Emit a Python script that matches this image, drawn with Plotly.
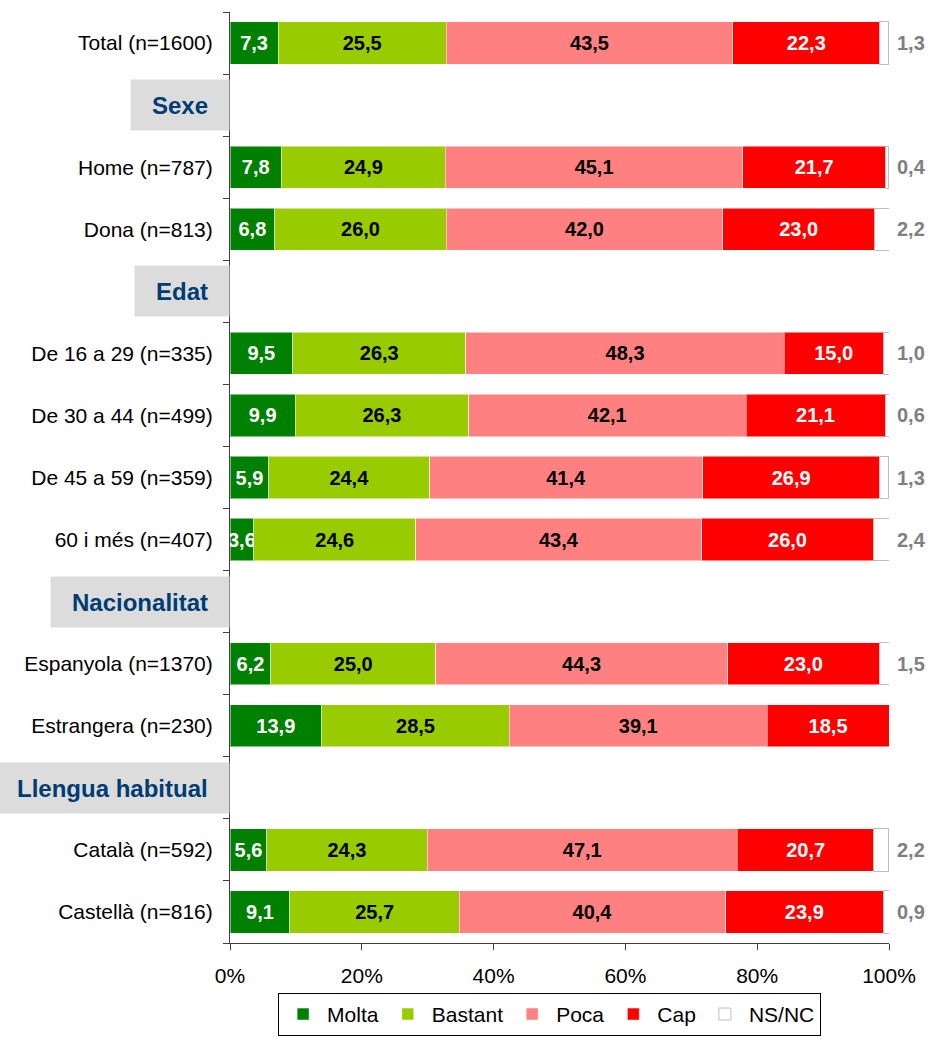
import plotly.graph_objects as go

rows = ["Total (n=1600)", "Sexe", "Home (n=787)", "Dona (n=813)", "Edat",
        "De 16 a 29 (n=335)", "De 30 a 44 (n=499)", "De 45 a 59 (n=359)", "60 i més (n=407)",
        "Nacionalitat", "Espanyola (n=1370)", "Estrangera (n=230)",
        "Llengua habitual", "Català (n=592)", "Castellà (n=816)"]
headers = ["Sexe", "Edat", "Nacionalitat", "Llengua habitual"]

series_names = ["Molta", "Bastant", "Poca", "Cap", "NS/NC"]
molta   = [7.3, None, 7.8, 6.8, None, 9.5, 9.9, 5.9, 3.6, None, 6.2, 13.9, None, 5.6, 9.1]
bastant = [25.5, None, 24.9, 26.0, None, 26.3, 26.3, 24.4, 24.6, None, 25.0, 28.5, None, 24.3, 25.7]
poca    = [43.5, None, 45.1, 42.0, None, 48.3, 42.1, 41.4, 43.4, None, 44.3, 39.1, None, 47.1, 40.4]
cap     = [22.3, None, 21.7, 23.0, None, 15.0, 21.1, 26.9, 26.0, None, 23.0, 18.5, None, 20.7, 23.9]
nsnc    = [1.3, None, 0.4, 2.2, None, 1.0, 0.6, 1.3, 2.4, None, 1.5, 0.0, None, 2.2, 0.9]
x_ticks = [0, 20, 40, 60, 80, 100]

colors = ["#008000", "#99CC00", "#FF8080", "#FF0000", "#FFFFFF"]
text_colors = ["white", "black", "black", "white", "black"]
FONT = "Liberation Sans, Arial, sans-serif"

def fmt(v):
    return f"{v:.1f}".replace(".", ",")

fig = go.Figure()
for name, vals, col, tcol in zip(series_names, [molta, bastant, poca, cap, nsnc], colors, text_colors):
    is_ns = name == "NS/NC"
    fig.add_trace(go.Bar(
        y=rows, x=vals, name=name, orientation="h",
        marker=dict(color=col, line=dict(color="#BFBFBF" if is_ns else "rgba(255,255,255,0.5)", width=1)),
        text=None if is_ns else [fmt(v) if v is not None else "" for v in vals],
        textposition="inside", insidetextanchor="middle", constraintext="none", textangle=0,
        textfont=dict(family=FONT, size=20, color=tcol, weight="bold"),
        hoverinfo="skip",
    ))

# NS/NC labels to the right of the bars
for i, r in enumerate(rows):
    if nsnc[i] is not None and nsnc[i] > 0:
        fig.add_annotation(
            x=1, xref="paper", xanchor="left", xshift=6,
            y=i, yref="y", yanchor="middle",
            text="<b>" + fmt(nsnc[i]) + "</b>", showarrow=False,
            font=dict(family=FONT, size=20, color="#808080"),
        )

# Header boxes
for h in headers:
    fig.add_annotation(
        x=0, xref="paper", xanchor="right",
        y=rows.index(h), yref="y", yanchor="middle",
        text="&nbsp;&nbsp;&nbsp;<b>" + h + "</b>&nbsp;&nbsp;&nbsp;",
        showarrow=False, bgcolor="#DCDCDC", height=48, align="right",
        font=dict(family=FONT, size=24, color="#003C71"),
    )

ticktext = ["" if r in headers else r for r in rows]

fig.update_layout(
    width=934, height=1039,
    margin=dict(l=230, r=45, t=12, b=96),
    barmode="stack", bargap=0.32,
    plot_bgcolor="white", paper_bgcolor="white",
    font=dict(family=FONT, size=21, color="black"),
    xaxis=dict(range=[0, 100], tickvals=x_ticks, ticktext=[f"{v}%" for v in x_ticks],
               showgrid=False, zeroline=False, automargin=False,
               showline=True, linecolor="#404040", ticks="outside", ticklen=6, tickcolor="#404040",
               tickfont=dict(size=21), ticklabelstandoff=8),
    yaxis=dict(categoryorder="array", categoryarray=rows, autorange="reversed",
               tickvals=rows, ticktext=ticktext, tickson="boundaries", automargin=False,
               showline=True, linecolor="#404040", ticks="outside", ticklen=6, tickcolor="#404040",
               showgrid=False, tickfont=dict(size=21), ticklabelstandoff=12),
    legend=dict(orientation="h", x=0.485, xanchor="center", xref="paper",
                y=0.003, yanchor="bottom", yref="container",
                bordercolor="#000000", borderwidth=1, bgcolor="white",
                font=dict(size=21), traceorder="normal", itemwidth=38),
)

fig.write_html("out.html", post_script="document.body.style.margin='0';",
               config={"displayModeBar": False})
